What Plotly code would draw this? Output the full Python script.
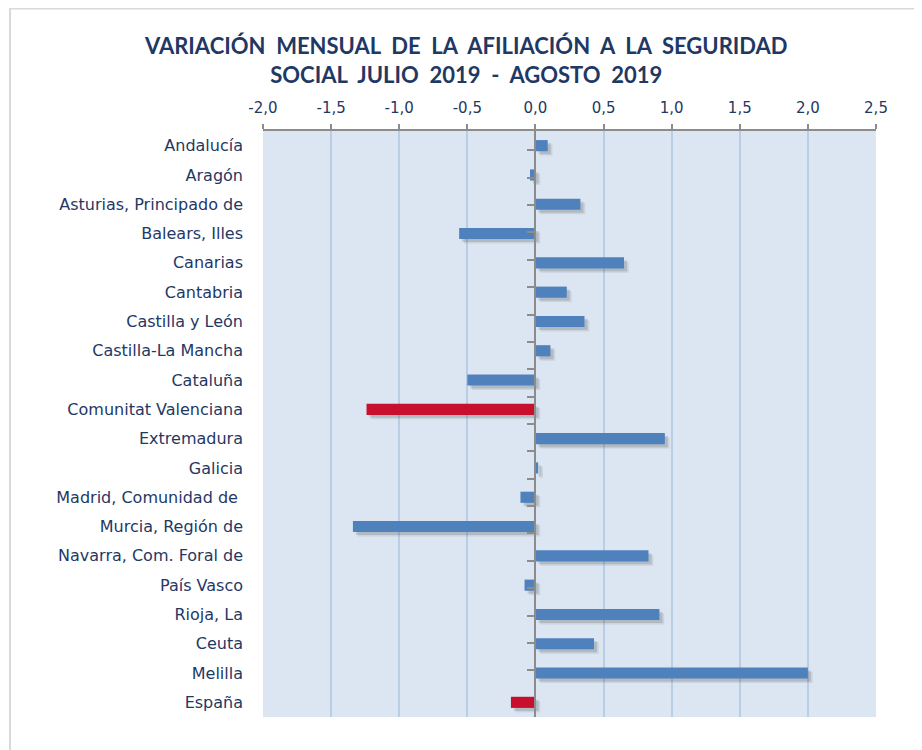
import plotly.graph_objects as go

categories = [
    "Andalucía", "Aragón", "Asturias, Principado de", "Balears, Illes", "Canarias",
    "Cantabria", "Castilla y León", "Castilla-La Mancha", "Cataluña",
    "Comunitat Valenciana", "Extremadura", "Galicia", "Madrid, Comunidad de ",
    "Murcia, Región de", "Navarra, Com. Foral de", "País Vasco", "Rioja, La",
    "Ceuta", "Melilla", "España",
]
values = [0.09, -0.04, 0.33, -0.56, 0.65, 0.23, 0.36, 0.11, -0.50, -1.24,
          0.95, 0.02, -0.11, -1.34, 0.83, -0.08, 0.91, 0.43, 2.00, -0.18]
highlight = ["Comunitat Valenciana", "España"]
tick_values = [-2.0, -1.5, -1.0, -0.5, 0.0, 0.5, 1.0, 1.5, 2.0, 2.5]
tick_labels = ["-2,0", "-1,5", "-1,0", "-0,5", "0,0", "0,5", "1,0", "1,5", "2,0", "2,5"]

BLUE = "#4F81BD"
RED = "#C8102E"
NAVY = "#1F3864"
colors = [RED if c in highlight else BLUE for c in categories]

bar_w = 0.38
fig = go.Figure()

# soft drop shadow (two layers for a blurred look)
for shift, off, alpha in [(0.035, 0.15, 0.10), (0.022, 0.10, 0.16)]:
    fig.add_trace(go.Bar(
        y=categories, x=values, base=shift, orientation="h",
        width=bar_w, offset=-bar_w / 2 + off,
        marker=dict(color=f"rgba(50,50,50,{alpha})", line=dict(width=0)),
        hoverinfo="skip", showlegend=False,
    ))
fig.add_trace(go.Bar(
    y=categories, x=values, orientation="h",
    width=bar_w, offset=-bar_w / 2,
    marker=dict(color=colors, line=dict(width=0)),
    showlegend=False,
))
# invisible helper trace for the category axis drawn at x = 0
fig.add_trace(go.Scatter(
    y=categories, x=[0] * len(categories), yaxis="y2", mode="markers",
    marker=dict(opacity=0), hoverinfo="skip", showlegend=False,
))

xmin, xmax = -2.0, 2.5
L, R, T, B = 255, 54, 123, 41
PW, PH = 922 - L - R, 750 - T - B
fig.update_layout(
    width=922, height=750,
    margin=dict(l=L, r=R, t=T, b=B),
    paper_bgcolor="white", plot_bgcolor="#DCE6F2",
    barmode="overlay",
    title=dict(
        text="VARIACIÓN  MENSUAL  DE  LA  AFILIACIÓN  A  LA  SEGURIDAD<br>SOCIAL  JULIO  2019  -  AGOSTO  2019",
        x=0.497, xanchor="center", y=1 - 46 / 750, yanchor="middle",
        font=dict(family="Lato", size=22, color=NAVY, weight="bold"),
    ),
    xaxis=dict(
        range=[xmin, xmax], tickvals=tick_values, ticktext=tick_labels,
        side="top", showline=True, linecolor="#8C8C8C", linewidth=1.5,
        ticks="outside", ticklen=5, tickcolor="#8C8C8C", tickwidth=1.5,
        ticklabelstandoff=5,
        showgrid=True, gridcolor="#B9CDE5", gridwidth=2,
        zeroline=False,
        tickfont=dict(family="DejaVu Sans", size=15, color=NAVY),
        fixedrange=True,
    ),
    yaxis=dict(
        autorange="reversed", showline=False, ticks="", showgrid=False,
        tickfont=dict(family="DejaVu Sans", size=16, color=NAVY),
        ticklabelstandoff=19,
    ),
    yaxis2=dict(
        overlaying="y", anchor="free",
        position=(0 - xmin) / (xmax - xmin),
        autorange="reversed", showticklabels=False,
        showline=True, linecolor="#8C8C8C", linewidth=2,
        ticks="outside", tickson="boundaries", ticklen=7, tickcolor="#8C8C8C",
        tickwidth=1.5, showgrid=False,
    ),
    shapes=[dict(
        type="rect", xref="paper", yref="paper",
        x0=(2 - L) / PW, x1=1 + 100 / PW, y0=-100 / PH, y1=1 + (T - 0.5) / PH,
        line=dict(color="#D9D9D9", width=2), fillcolor="rgba(0,0,0,0)",
        layer="below",
    )],
)

fig.write_html("out.html")
